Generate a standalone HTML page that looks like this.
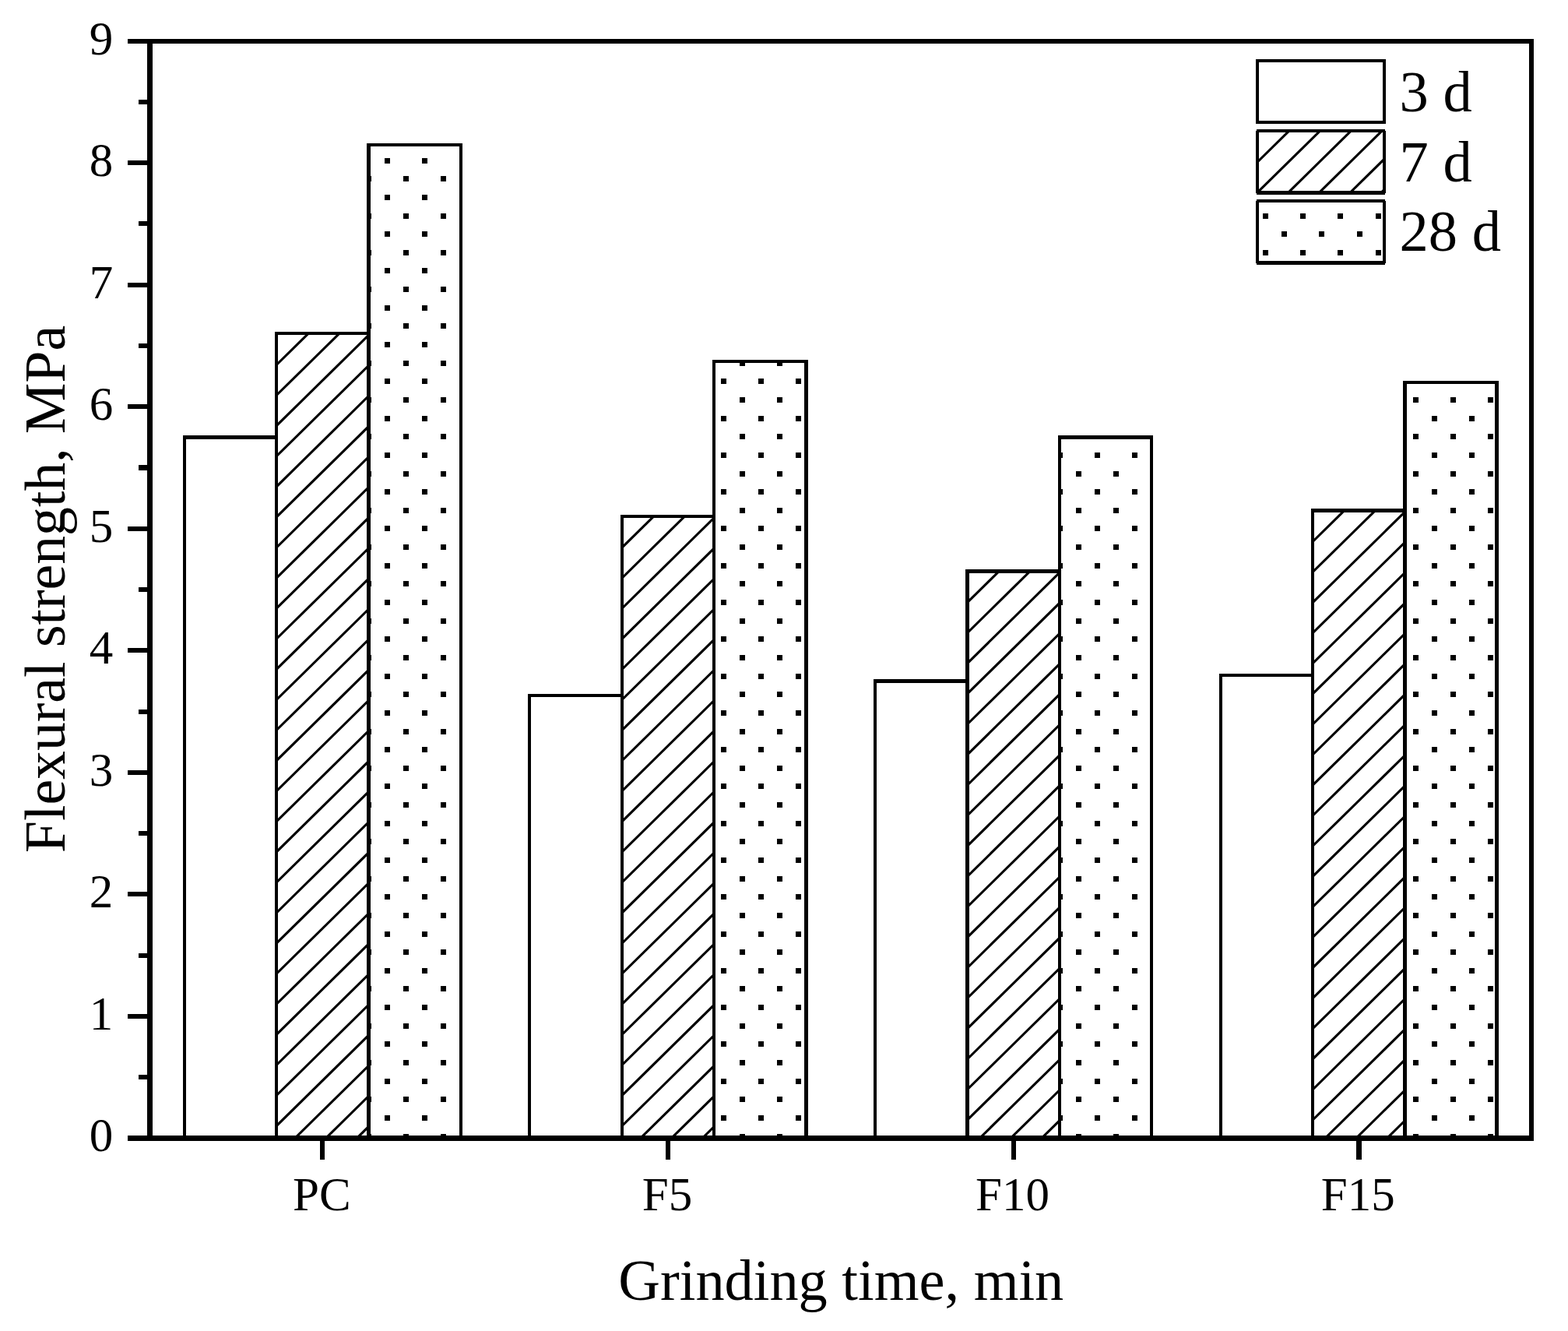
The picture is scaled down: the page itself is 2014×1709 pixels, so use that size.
<!DOCTYPE html>
<html lang="en"><head><meta charset="utf-8"><title>Flexural strength vs grinding time</title>
<style>html,body{margin:0;padding:0;background:#fff}svg{display:block}text{font-family:"Liberation Serif", "Times New Roman", Times, serif;fill:#000}</style></head><body>
<svg width="2014" height="1709" viewBox="0 0 2014 1709" role="img" aria-label="Flexural strength versus grinding time">
<rect x="0" y="0" width="2014" height="1709" fill="#fff"/>
<defs>
<clipPath id="cb01"><rect x="355.16" y="428.29" width="118.3" height="1033.21"/></clipPath>
<clipPath id="cb02"><rect x="473.46" y="185.71" width="118.3" height="1275.79"/></clipPath>
<clipPath id="cb11"><rect x="798.79" y="663.04" width="118.3" height="798.46"/></clipPath>
<clipPath id="cb12"><rect x="917.09" y="464.29" width="118.3" height="997.21"/></clipPath>
<clipPath id="cb21"><rect x="1242.41" y="733.47" width="118.3" height="728.03"/></clipPath>
<clipPath id="cb22"><rect x="1360.71" y="561.32" width="118.3" height="900.18"/></clipPath>
<clipPath id="cb31"><rect x="1686.04" y="655.37" width="118.3" height="806.13"/></clipPath>
<clipPath id="cb32"><rect x="1804.34" y="490.89" width="118.3" height="970.61"/></clipPath>
<clipPath id="cl1"><rect x="1615" y="168" width="163" height="79.5"/></clipPath>
<clipPath id="cl2"><rect x="1615" y="258" width="163" height="79.5"/></clipPath>
</defs>
<g id="bars">
<rect x="236.86" y="561.32" width="118.3" height="900.18" fill="#fff"/>
<path d="M235 559H357V1462H353V564H239V1462H235z" fill="#000" shape-rendering="crispEdges"/>
<rect x="355.16" y="428.29" width="118.3" height="1033.21" fill="#fff"/>
<path clip-path="url(#cb01)" d="M352.16 432.32L359.31 425.29M352.16 471.41L399.06 425.29M352.16 510.49L438.81 425.29M352.16 549.58L476.46 427.36M352.16 588.66L476.46 466.44M352.16 627.75L476.46 505.53M352.16 666.83L476.46 544.61M352.16 705.92L476.46 583.7M352.16 745.01L476.46 622.78M352.16 784.09L476.46 661.87M352.16 823.18L476.46 700.95M352.16 862.26L476.46 740.04M352.16 901.35L476.46 779.13M352.16 940.43L476.46 818.21M352.16 979.52L476.46 857.3M352.16 1018.6L476.46 896.38M352.16 1057.69L476.46 935.47M352.16 1096.78L476.46 974.55M352.16 1135.86L476.46 1013.64M352.16 1174.95L476.46 1052.72M352.16 1214.03L476.46 1091.81M352.16 1253.12L476.46 1130.9M352.16 1292.2L476.46 1169.98M352.16 1331.29L476.46 1209.07M352.16 1370.37L476.46 1248.15M352.16 1409.46L476.46 1287.24M352.16 1448.55L476.46 1326.32M375.69 1464.5L476.46 1365.41M415.44 1464.5L476.46 1404.49M455.19 1464.5L476.46 1443.58" fill="none" stroke="#000" stroke-width="3.1"/>
<path d="M353 426H476V1462H471V430H357V1462H353z" fill="#000" shape-rendering="crispEdges"/>
<rect x="473.46" y="185.71" width="118.3" height="1275.79" fill="#fff"/>
<path clip-path="url(#cb02)" d="M470 179h7v7h-7zM518 179h7v7h-7zM566 179h7v7h-7zM494 203h7v7h-7zM542 203h7v7h-7zM590 203h7v7h-7zM470 226h7v7h-7zM518 226h7v7h-7zM566 226h7v7h-7zM494 250h7v7h-7zM542 250h7v7h-7zM590 250h7v7h-7zM470 274h7v7h-7zM518 274h7v7h-7zM566 274h7v7h-7zM494 297h7v7h-7zM542 297h7v7h-7zM590 297h7v7h-7zM470 321h7v7h-7zM518 321h7v7h-7zM566 321h7v7h-7zM494 344h7v7h-7zM542 344h7v7h-7zM590 344h7v7h-7zM470 368h7v7h-7zM518 368h7v7h-7zM566 368h7v7h-7zM494 392h7v7h-7zM542 392h7v7h-7zM590 392h7v7h-7zM470 415h7v7h-7zM518 415h7v7h-7zM566 415h7v7h-7zM494 439h7v7h-7zM542 439h7v7h-7zM590 439h7v7h-7zM470 463h7v7h-7zM518 463h7v7h-7zM566 463h7v7h-7zM494 486h7v7h-7zM542 486h7v7h-7zM590 486h7v7h-7zM470 510h7v7h-7zM518 510h7v7h-7zM566 510h7v7h-7zM494 534h7v7h-7zM542 534h7v7h-7zM590 534h7v7h-7zM470 557h7v7h-7zM518 557h7v7h-7zM566 557h7v7h-7zM494 581h7v7h-7zM542 581h7v7h-7zM590 581h7v7h-7zM470 605h7v7h-7zM518 605h7v7h-7zM566 605h7v7h-7zM494 628h7v7h-7zM542 628h7v7h-7zM590 628h7v7h-7zM470 652h7v7h-7zM518 652h7v7h-7zM566 652h7v7h-7zM494 675h7v7h-7zM542 675h7v7h-7zM590 675h7v7h-7zM470 699h7v7h-7zM518 699h7v7h-7zM566 699h7v7h-7zM494 723h7v7h-7zM542 723h7v7h-7zM590 723h7v7h-7zM470 746h7v7h-7zM518 746h7v7h-7zM566 746h7v7h-7zM494 770h7v7h-7zM542 770h7v7h-7zM590 770h7v7h-7zM470 794h7v7h-7zM518 794h7v7h-7zM566 794h7v7h-7zM494 817h7v7h-7zM542 817h7v7h-7zM590 817h7v7h-7zM470 841h7v7h-7zM518 841h7v7h-7zM566 841h7v7h-7zM494 865h7v7h-7zM542 865h7v7h-7zM590 865h7v7h-7zM470 888h7v7h-7zM518 888h7v7h-7zM566 888h7v7h-7zM494 912h7v7h-7zM542 912h7v7h-7zM590 912h7v7h-7zM470 936h7v7h-7zM518 936h7v7h-7zM566 936h7v7h-7zM494 959h7v7h-7zM542 959h7v7h-7zM590 959h7v7h-7zM470 983h7v7h-7zM518 983h7v7h-7zM566 983h7v7h-7zM494 1006h7v7h-7zM542 1006h7v7h-7zM590 1006h7v7h-7zM470 1030h7v7h-7zM518 1030h7v7h-7zM566 1030h7v7h-7zM494 1054h7v7h-7zM542 1054h7v7h-7zM590 1054h7v7h-7zM470 1077h7v7h-7zM518 1077h7v7h-7zM566 1077h7v7h-7zM494 1101h7v7h-7zM542 1101h7v7h-7zM590 1101h7v7h-7zM470 1125h7v7h-7zM518 1125h7v7h-7zM566 1125h7v7h-7zM494 1148h7v7h-7zM542 1148h7v7h-7zM590 1148h7v7h-7zM470 1172h7v7h-7zM518 1172h7v7h-7zM566 1172h7v7h-7zM494 1196h7v7h-7zM542 1196h7v7h-7zM590 1196h7v7h-7zM470 1219h7v7h-7zM518 1219h7v7h-7zM566 1219h7v7h-7zM494 1243h7v7h-7zM542 1243h7v7h-7zM590 1243h7v7h-7zM470 1266h7v7h-7zM518 1266h7v7h-7zM566 1266h7v7h-7zM494 1290h7v7h-7zM542 1290h7v7h-7zM590 1290h7v7h-7zM470 1314h7v7h-7zM518 1314h7v7h-7zM566 1314h7v7h-7zM494 1337h7v7h-7zM542 1337h7v7h-7zM590 1337h7v7h-7zM470 1361h7v7h-7zM518 1361h7v7h-7zM566 1361h7v7h-7zM494 1385h7v7h-7zM542 1385h7v7h-7zM590 1385h7v7h-7zM470 1408h7v7h-7zM518 1408h7v7h-7zM566 1408h7v7h-7zM494 1432h7v7h-7zM542 1432h7v7h-7zM590 1432h7v7h-7zM470 1456h7v7h-7zM518 1456h7v7h-7zM566 1456h7v7h-7z" fill="#000" shape-rendering="crispEdges"/>
<path d="M471 184H594V1462H590V188H476V1462H471z" fill="#000" shape-rendering="crispEdges"/>
<rect x="680.49" y="893.1" width="118.3" height="568.4" fill="#fff"/>
<path d="M678 891H801V1462H797V895H682V1462H678z" fill="#000" shape-rendering="crispEdges"/>
<rect x="798.79" y="663.04" width="118.3" height="798.46" fill="#fff"/>
<path clip-path="url(#cb11)" d="M795.79 667.07L802.94 660.04M795.79 706.16L842.69 660.04M795.79 745.24L882.44 660.04M795.79 784.33L920.09 662.11M795.79 823.41L920.09 701.19M795.79 862.5L920.09 740.28M795.79 901.58L920.09 779.36M795.79 940.67L920.09 818.45M795.79 979.76L920.09 857.53M795.79 1018.84L920.09 896.62M795.79 1057.93L920.09 935.7M795.79 1097.01L920.09 974.79M795.79 1136.1L920.09 1013.88M795.79 1175.18L920.09 1052.96M795.79 1214.27L920.09 1092.05M795.79 1253.35L920.09 1131.13M795.79 1292.44L920.09 1170.22M795.79 1331.53L920.09 1209.3M795.79 1370.61L920.09 1248.39M795.79 1409.7L920.09 1287.47M795.79 1448.78L920.09 1326.56M819.55 1464.5L920.09 1365.65M859.3 1464.5L920.09 1404.73M899.05 1464.5L920.09 1443.82" fill="none" stroke="#000" stroke-width="3.1"/>
<path d="M797 661H919V1462H915V665H801V1462H797z" fill="#000" shape-rendering="crispEdges"/>
<rect x="917.09" y="464.29" width="118.3" height="997.21" fill="#fff"/>
<path clip-path="url(#cb12)" d="M950 463h7v7h-7zM998 463h7v7h-7zM926 486h7v7h-7zM974 486h7v7h-7zM1022 486h7v7h-7zM950 510h7v7h-7zM998 510h7v7h-7zM926 534h7v7h-7zM974 534h7v7h-7zM1022 534h7v7h-7zM950 557h7v7h-7zM998 557h7v7h-7zM926 581h7v7h-7zM974 581h7v7h-7zM1022 581h7v7h-7zM950 605h7v7h-7zM998 605h7v7h-7zM926 628h7v7h-7zM974 628h7v7h-7zM1022 628h7v7h-7zM950 652h7v7h-7zM998 652h7v7h-7zM926 675h7v7h-7zM974 675h7v7h-7zM1022 675h7v7h-7zM950 699h7v7h-7zM998 699h7v7h-7zM926 723h7v7h-7zM974 723h7v7h-7zM1022 723h7v7h-7zM950 746h7v7h-7zM998 746h7v7h-7zM926 770h7v7h-7zM974 770h7v7h-7zM1022 770h7v7h-7zM950 794h7v7h-7zM998 794h7v7h-7zM926 817h7v7h-7zM974 817h7v7h-7zM1022 817h7v7h-7zM950 841h7v7h-7zM998 841h7v7h-7zM926 865h7v7h-7zM974 865h7v7h-7zM1022 865h7v7h-7zM950 888h7v7h-7zM998 888h7v7h-7zM926 912h7v7h-7zM974 912h7v7h-7zM1022 912h7v7h-7zM950 936h7v7h-7zM998 936h7v7h-7zM926 959h7v7h-7zM974 959h7v7h-7zM1022 959h7v7h-7zM950 983h7v7h-7zM998 983h7v7h-7zM926 1006h7v7h-7zM974 1006h7v7h-7zM1022 1006h7v7h-7zM950 1030h7v7h-7zM998 1030h7v7h-7zM926 1054h7v7h-7zM974 1054h7v7h-7zM1022 1054h7v7h-7zM950 1077h7v7h-7zM998 1077h7v7h-7zM926 1101h7v7h-7zM974 1101h7v7h-7zM1022 1101h7v7h-7zM950 1125h7v7h-7zM998 1125h7v7h-7zM926 1148h7v7h-7zM974 1148h7v7h-7zM1022 1148h7v7h-7zM950 1172h7v7h-7zM998 1172h7v7h-7zM926 1196h7v7h-7zM974 1196h7v7h-7zM1022 1196h7v7h-7zM950 1219h7v7h-7zM998 1219h7v7h-7zM926 1243h7v7h-7zM974 1243h7v7h-7zM1022 1243h7v7h-7zM950 1266h7v7h-7zM998 1266h7v7h-7zM926 1290h7v7h-7zM974 1290h7v7h-7zM1022 1290h7v7h-7zM950 1314h7v7h-7zM998 1314h7v7h-7zM926 1337h7v7h-7zM974 1337h7v7h-7zM1022 1337h7v7h-7zM950 1361h7v7h-7zM998 1361h7v7h-7zM926 1385h7v7h-7zM974 1385h7v7h-7zM1022 1385h7v7h-7zM950 1408h7v7h-7zM998 1408h7v7h-7zM926 1432h7v7h-7zM974 1432h7v7h-7zM1022 1432h7v7h-7zM950 1456h7v7h-7zM998 1456h7v7h-7z" fill="#000" shape-rendering="crispEdges"/>
<path d="M915 462H1038V1462H1033V466H919V1462H915z" fill="#000" shape-rendering="crispEdges"/>
<rect x="1124.11" y="874.32" width="118.3" height="587.18" fill="#fff"/>
<path d="M1122 872H1245V1462H1240V877H1126V1462H1122z" fill="#000" shape-rendering="crispEdges"/>
<rect x="1242.41" y="733.47" width="118.3" height="728.03" fill="#fff"/>
<path clip-path="url(#cb21)" d="M1239.41 737.5L1246.56 730.47M1239.41 776.58L1286.31 730.47M1239.41 815.67L1326.06 730.47M1239.41 854.75L1363.71 732.53M1239.41 893.84L1363.71 771.62M1239.41 932.92L1363.71 810.7M1239.41 972.01L1363.71 849.79M1239.41 1011.1L1363.71 888.87M1239.41 1050.18L1363.71 927.96M1239.41 1089.27L1363.71 967.04M1239.41 1128.35L1363.71 1006.13M1239.41 1167.44L1363.71 1045.22M1239.41 1206.52L1363.71 1084.3M1239.41 1245.61L1363.71 1123.39M1239.41 1284.69L1363.71 1162.47M1239.41 1323.78L1363.71 1201.56M1239.41 1362.87L1363.71 1240.64M1239.41 1401.95L1363.71 1279.73M1239.41 1441.04L1363.71 1318.81M1255.3 1464.5L1363.71 1357.9M1295.05 1464.5L1363.71 1396.99M1334.8 1464.5L1363.71 1436.07" fill="none" stroke="#000" stroke-width="3.1"/>
<path d="M1240 731H1363V1462H1359V736H1245V1462H1240z" fill="#000" shape-rendering="crispEdges"/>
<rect x="1360.71" y="561.32" width="118.3" height="900.18" fill="#fff"/>
<path clip-path="url(#cb22)" d="M1382 557h7v7h-7zM1430 557h7v7h-7zM1478 557h7v7h-7zM1358 581h7v7h-7zM1406 581h7v7h-7zM1454 581h7v7h-7zM1382 605h7v7h-7zM1430 605h7v7h-7zM1478 605h7v7h-7zM1358 628h7v7h-7zM1406 628h7v7h-7zM1454 628h7v7h-7zM1382 652h7v7h-7zM1430 652h7v7h-7zM1478 652h7v7h-7zM1358 675h7v7h-7zM1406 675h7v7h-7zM1454 675h7v7h-7zM1382 699h7v7h-7zM1430 699h7v7h-7zM1478 699h7v7h-7zM1358 723h7v7h-7zM1406 723h7v7h-7zM1454 723h7v7h-7zM1382 746h7v7h-7zM1430 746h7v7h-7zM1478 746h7v7h-7zM1358 770h7v7h-7zM1406 770h7v7h-7zM1454 770h7v7h-7zM1382 794h7v7h-7zM1430 794h7v7h-7zM1478 794h7v7h-7zM1358 817h7v7h-7zM1406 817h7v7h-7zM1454 817h7v7h-7zM1382 841h7v7h-7zM1430 841h7v7h-7zM1478 841h7v7h-7zM1358 865h7v7h-7zM1406 865h7v7h-7zM1454 865h7v7h-7zM1382 888h7v7h-7zM1430 888h7v7h-7zM1478 888h7v7h-7zM1358 912h7v7h-7zM1406 912h7v7h-7zM1454 912h7v7h-7zM1382 936h7v7h-7zM1430 936h7v7h-7zM1478 936h7v7h-7zM1358 959h7v7h-7zM1406 959h7v7h-7zM1454 959h7v7h-7zM1382 983h7v7h-7zM1430 983h7v7h-7zM1478 983h7v7h-7zM1358 1006h7v7h-7zM1406 1006h7v7h-7zM1454 1006h7v7h-7zM1382 1030h7v7h-7zM1430 1030h7v7h-7zM1478 1030h7v7h-7zM1358 1054h7v7h-7zM1406 1054h7v7h-7zM1454 1054h7v7h-7zM1382 1077h7v7h-7zM1430 1077h7v7h-7zM1478 1077h7v7h-7zM1358 1101h7v7h-7zM1406 1101h7v7h-7zM1454 1101h7v7h-7zM1382 1125h7v7h-7zM1430 1125h7v7h-7zM1478 1125h7v7h-7zM1358 1148h7v7h-7zM1406 1148h7v7h-7zM1454 1148h7v7h-7zM1382 1172h7v7h-7zM1430 1172h7v7h-7zM1478 1172h7v7h-7zM1358 1196h7v7h-7zM1406 1196h7v7h-7zM1454 1196h7v7h-7zM1382 1219h7v7h-7zM1430 1219h7v7h-7zM1478 1219h7v7h-7zM1358 1243h7v7h-7zM1406 1243h7v7h-7zM1454 1243h7v7h-7zM1382 1266h7v7h-7zM1430 1266h7v7h-7zM1478 1266h7v7h-7zM1358 1290h7v7h-7zM1406 1290h7v7h-7zM1454 1290h7v7h-7zM1382 1314h7v7h-7zM1430 1314h7v7h-7zM1478 1314h7v7h-7zM1358 1337h7v7h-7zM1406 1337h7v7h-7zM1454 1337h7v7h-7zM1382 1361h7v7h-7zM1430 1361h7v7h-7zM1478 1361h7v7h-7zM1358 1385h7v7h-7zM1406 1385h7v7h-7zM1454 1385h7v7h-7zM1382 1408h7v7h-7zM1430 1408h7v7h-7zM1478 1408h7v7h-7zM1358 1432h7v7h-7zM1406 1432h7v7h-7zM1454 1432h7v7h-7zM1382 1456h7v7h-7zM1430 1456h7v7h-7zM1478 1456h7v7h-7z" fill="#000" shape-rendering="crispEdges"/>
<path d="M1359 559H1481V1462H1477V564H1363V1462H1359z" fill="#000" shape-rendering="crispEdges"/>
<rect x="1567.74" y="866.8" width="118.3" height="594.7" fill="#fff"/>
<path d="M1566 865H1688V1462H1684V869H1570V1462H1566z" fill="#000" shape-rendering="crispEdges"/>
<rect x="1686.04" y="655.37" width="118.3" height="806.13" fill="#fff"/>
<path clip-path="url(#cb31)" d="M1683.04 659.4L1690.19 652.37M1683.04 698.49L1729.94 652.37M1683.04 737.57L1769.69 652.37M1683.04 776.66L1807.34 654.44M1683.04 815.75L1807.34 693.52M1683.04 854.83L1807.34 732.61M1683.04 893.92L1807.34 771.69M1683.04 933L1807.34 810.78M1683.04 972.09L1807.34 849.87M1683.04 1011.17L1807.34 888.95M1683.04 1050.26L1807.34 928.04M1683.04 1089.34L1807.34 967.12M1683.04 1128.43L1807.34 1006.21M1683.04 1167.52L1807.34 1045.29M1683.04 1206.6L1807.34 1084.38M1683.04 1245.69L1807.34 1123.46M1683.04 1284.77L1807.34 1162.55M1683.04 1323.86L1807.34 1201.64M1683.04 1362.94L1807.34 1240.72M1683.04 1402.03L1807.34 1279.81M1683.04 1441.11L1807.34 1318.89M1699 1464.5L1807.34 1357.98M1738.75 1464.5L1807.34 1397.06M1778.5 1464.5L1807.34 1436.15" fill="none" stroke="#000" stroke-width="3.1"/>
<path d="M1684 653H1807V1462H1802V658H1688V1462H1684z" fill="#000" shape-rendering="crispEdges"/>
<rect x="1804.34" y="490.89" width="118.3" height="970.61" fill="#fff"/>
<path clip-path="url(#cb32)" d="M1839 486h7v7h-7zM1887 486h7v7h-7zM1815 510h7v7h-7zM1863 510h7v7h-7zM1911 510h7v7h-7zM1839 534h7v7h-7zM1887 534h7v7h-7zM1815 557h7v7h-7zM1863 557h7v7h-7zM1911 557h7v7h-7zM1839 581h7v7h-7zM1887 581h7v7h-7zM1815 605h7v7h-7zM1863 605h7v7h-7zM1911 605h7v7h-7zM1839 628h7v7h-7zM1887 628h7v7h-7zM1815 652h7v7h-7zM1863 652h7v7h-7zM1911 652h7v7h-7zM1839 675h7v7h-7zM1887 675h7v7h-7zM1815 699h7v7h-7zM1863 699h7v7h-7zM1911 699h7v7h-7zM1839 723h7v7h-7zM1887 723h7v7h-7zM1815 746h7v7h-7zM1863 746h7v7h-7zM1911 746h7v7h-7zM1839 770h7v7h-7zM1887 770h7v7h-7zM1815 794h7v7h-7zM1863 794h7v7h-7zM1911 794h7v7h-7zM1839 817h7v7h-7zM1887 817h7v7h-7zM1815 841h7v7h-7zM1863 841h7v7h-7zM1911 841h7v7h-7zM1839 865h7v7h-7zM1887 865h7v7h-7zM1815 888h7v7h-7zM1863 888h7v7h-7zM1911 888h7v7h-7zM1839 912h7v7h-7zM1887 912h7v7h-7zM1815 936h7v7h-7zM1863 936h7v7h-7zM1911 936h7v7h-7zM1839 959h7v7h-7zM1887 959h7v7h-7zM1815 983h7v7h-7zM1863 983h7v7h-7zM1911 983h7v7h-7zM1839 1006h7v7h-7zM1887 1006h7v7h-7zM1815 1030h7v7h-7zM1863 1030h7v7h-7zM1911 1030h7v7h-7zM1839 1054h7v7h-7zM1887 1054h7v7h-7zM1815 1077h7v7h-7zM1863 1077h7v7h-7zM1911 1077h7v7h-7zM1839 1101h7v7h-7zM1887 1101h7v7h-7zM1815 1125h7v7h-7zM1863 1125h7v7h-7zM1911 1125h7v7h-7zM1839 1148h7v7h-7zM1887 1148h7v7h-7zM1815 1172h7v7h-7zM1863 1172h7v7h-7zM1911 1172h7v7h-7zM1839 1196h7v7h-7zM1887 1196h7v7h-7zM1815 1219h7v7h-7zM1863 1219h7v7h-7zM1911 1219h7v7h-7zM1839 1243h7v7h-7zM1887 1243h7v7h-7zM1815 1266h7v7h-7zM1863 1266h7v7h-7zM1911 1266h7v7h-7zM1839 1290h7v7h-7zM1887 1290h7v7h-7zM1815 1314h7v7h-7zM1863 1314h7v7h-7zM1911 1314h7v7h-7zM1839 1337h7v7h-7zM1887 1337h7v7h-7zM1815 1361h7v7h-7zM1863 1361h7v7h-7zM1911 1361h7v7h-7zM1839 1385h7v7h-7zM1887 1385h7v7h-7zM1815 1408h7v7h-7zM1863 1408h7v7h-7zM1911 1408h7v7h-7zM1839 1432h7v7h-7zM1887 1432h7v7h-7zM1815 1456h7v7h-7zM1863 1456h7v7h-7zM1911 1456h7v7h-7z" fill="#000" shape-rendering="crispEdges"/>
<path d="M1802 489H1925V1462H1920V493H1807V1462H1802z" fill="#000" shape-rendering="crispEdges"/>
</g>
<g id="axes" fill="#000" shape-rendering="crispEdges">
<rect x="189" y="50" width="7" height="1415"/>
<rect x="1964" y="50" width="6" height="1415"/>
<rect x="189" y="50" width="1781" height="6"/>
<rect x="189" y="1458" width="1781" height="7"/>
<rect x="164" y="1458" width="26" height="7"/>
<rect x="178" y="1380" width="12" height="6"/>
<rect x="164" y="1302" width="26" height="6"/>
<rect x="178" y="1224" width="12" height="6"/>
<rect x="164" y="1145" width="26" height="6"/>
<rect x="178" y="1067" width="12" height="6"/>
<rect x="164" y="989" width="26" height="6"/>
<rect x="178" y="911" width="12" height="6"/>
<rect x="164" y="832" width="26" height="6"/>
<rect x="178" y="754" width="12" height="6"/>
<rect x="164" y="676" width="26" height="6"/>
<rect x="178" y="597" width="12" height="7"/>
<rect x="164" y="519" width="26" height="6"/>
<rect x="178" y="441" width="12" height="6"/>
<rect x="164" y="363" width="26" height="6"/>
<rect x="178" y="284" width="12" height="6"/>
<rect x="164" y="206" width="26" height="6"/>
<rect x="178" y="128" width="12" height="6"/>
<rect x="164" y="50" width="26" height="6"/>
<rect x="411" y="1464" width="6" height="25"/>
<rect x="855" y="1464" width="6" height="25"/>
<rect x="1299" y="1464" width="6" height="25"/>
<rect x="1742" y="1464" width="7" height="25"/>
</g>
<g font-size="61" text-anchor="end">
<text x="145.2" y="1478.3">0</text>
<text x="145.2" y="1321.8">1</text>
<text x="145.2" y="1165.3">2</text>
<text x="145.2" y="1008.8">3</text>
<text x="145.2" y="852.3">4</text>
<text x="145.2" y="695.8">5</text>
<text x="145.2" y="539.3">6</text>
<text x="145.2" y="382.8">7</text>
<text x="145.2" y="226.3">8</text>
<text x="145.2" y="69.8">9</text>
</g>
<g font-size="61" text-anchor="middle">
<text x="413.31" y="1554">PC</text>
<text x="856.94" y="1554">F5</text>
<text x="1300.56" y="1554">F10</text>
<text x="1744.19" y="1554">F15</text>
</g>
<text x="1080.3" y="1669.3" font-size="74.35" text-anchor="middle">Grinding time, min</text>
<text transform="translate(83 756.4) rotate(-90) scale(0.991 1)" font-size="74.35" text-anchor="middle">Flexural strength, MPa</text>
<g id="legend">
<rect x="1613" y="76" width="167" height="83" fill="#fff"/>
<path d="M1613 76h167v4h-167zM1613 155h167v4h-167zM1613 76h4v83h-4zM1776 76h4v83h-4z" fill="#000" shape-rendering="crispEdges"/>
<rect x="1613" y="166" width="167" height="84" fill="#fff"/>
<path clip-path="url(#cl1)" d="M1612 172.03L1619.15 165M1612 211.12L1658.9 165M1612 250.2L1698.65 165M1651.45 250.5L1738.4 165M1691.2 250.5L1778.15 165M1730.95 250.5L1781 201.28M1770.7 250.5L1781 240.37" fill="none" stroke="#000" stroke-width="3.1"/>
<path d="M1614 166h165v4h-165zM1614 245h165v5h-165zM1613 168h4v80h-4zM1776 168h4v80h-4z" fill="#000" shape-rendering="crispEdges"/>
<rect x="1613" y="256" width="167" height="84" fill="#fff"/>
<path clip-path="url(#cl2)" d="M1622 274h7v7h-7zM1670 274h7v7h-7zM1718 274h7v7h-7zM1767 274h7v7h-7zM1646 297h7v7h-7zM1694 297h7v7h-7zM1743 297h7v7h-7zM1622 321h7v7h-7zM1670 321h7v7h-7zM1718 321h7v7h-7zM1767 321h7v7h-7z" fill="#000" shape-rendering="crispEdges"/>
<path d="M1614 256h165v4h-165zM1614 335h165v5h-165zM1613 258h4v80h-4zM1776 258h4v80h-4z" fill="#000" shape-rendering="crispEdges"/>
</g>
<g font-size="74.5">
<text x="1797.5" y="142.5">3 d</text>
<text x="1797.5" y="232.7">7 d</text>
<text x="1797.5" y="322.3">28 d</text>
</g>
</svg></body></html>
